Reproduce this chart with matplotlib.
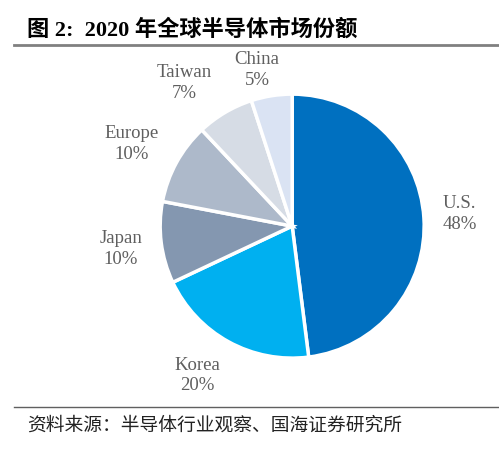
import numpy as np
import matplotlib.pyplot as plt
from matplotlib.lines import Line2D

regions = ['U.S.', 'Korea', 'Japan', 'Europe', 'Taiwan', 'China']
shares = [48, 20, 10, 10, 7, 5]
colors = ['#0070C0', '#00B0F0', '#8497B0', '#ADB9CA', '#D6DCE5', '#DAE3F3']
title = '图 2:  2020 年全球半导体市场份额'
source = '资料来源：半导体行业观察、国海证券研究所'

# distancia de cada etiqueta y desplazamiento angular (grados)
label_dist = [1.27, 1.34, 1.31, 1.37, 1.36, 1.21]
label_shift = [0.5, -3.6, 0.5, 1.7, 6.4, 3.7]

fig = plt.figure(figsize=(4.99, 4.5), dpi=100)
ax = fig.add_axes([0.321, 0.204, 0.529, 0.587])

labels = [f'{r}\n{s}%' for r, s in zip(regions, shares)]
wedges, texts = ax.pie(shares, labels=labels, colors=colors, startangle=90, counterclock=False,
                       labeldistance=1.3,
                       wedgeprops=dict(edgecolor='white', linewidth=2.5),
                       textprops=dict(family=['Liberation Serif'], fontsize=13.5, color='#5f5f5f',
                                      linespacing=1.3))
for w, t, d, s in zip(wedges, texts, label_dist, label_shift):
    ang = np.deg2rad((w.theta1 + w.theta2) / 2 + s)
    t.set_position((d * np.cos(ang), d * np.sin(ang)))
    t.set_ha('center'); t.set_va('center')
ax.set_xlim(-1, 1); ax.set_ylim(-1, 1)

# titulo y fuente
fig.text(0.054, 0.934, title, fontsize=16, fontweight='bold', color='black',
         family=['Liberation Serif', 'Noto Sans CJK SC'], va='center')
fig.add_artist(Line2D([0.028, 1.0], [0.9, 0.9], color='#808080', lw=2))
fig.add_artist(Line2D([0.028, 1.0], [0.096, 0.096], color='#606060', lw=1.0))
fig.text(0.054, 0.056, source, fontsize=13.5, color='#222222',
         family=['Noto Sans CJK SC'], va='center')

fig.savefig('out.png', dpi=100)
